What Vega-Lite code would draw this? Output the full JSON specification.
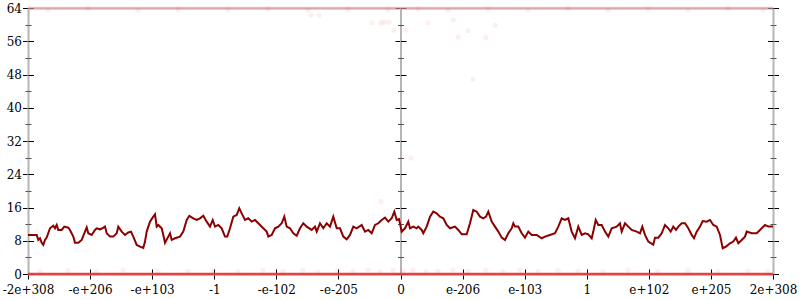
{
  "$schema": "https://vega.github.io/schema/vega-lite/v6.json",
  "width": 745,
  "height": 266,
  "autosize": "none",
  "padding": {"left": 28, "top": 8, "right": 27, "bottom": 26},
  "background": "white",
  "config": {
    "view": {"stroke": null},
    "axis": {"grid": false, "labelFont": "DejaVu Serif, Liberation Serif, serif", "labelFontSize": 12, "labelColor": "#000", "tickColor": "#000", "tickWidth": 1, "domainColor": "#b5b5b5", "domainWidth": 2, "labelOverlap": false, "labelFlush": false, "labelBound": false}
  },
  "datasets": {
    "line": [
      {"x":0,"y":9.4},{"x":8.7,"y":9.4},{"x":10.3,"y":8.2},{"x":12,"y":8.6},{"x":13.7,"y":7.5},{"x":15.3,"y":7.0},{"x":17,"y":8.2},{"x":18.7,"y":8.75},{"x":22,"y":11.0},{"x":25.3,"y":11.6},{"x":27,"y":11.0},{"x":28.7,"y":11.8},{"x":30.3,"y":10.6},{"x":33.7,"y":10.6},{"x":36.3,"y":11.4},{"x":40.3,"y":11.15},{"x":42,"y":10.6},{"x":45.3,"y":9.0},{"x":47,"y":7.5},{"x":50.3,"y":7.5},{"x":53.7,"y":8.2},{"x":57,"y":10.2},{"x":58.7,"y":11.2},{"x":60.3,"y":9.8},{"x":63.7,"y":9.4},{"x":67,"y":10.6},{"x":68.7,"y":11.0},{"x":72,"y":10.75},{"x":74.3,"y":11.0},{"x":77,"y":11.4},{"x":78.7,"y":9.8},{"x":82,"y":9.0},{"x":85.3,"y":9.0},{"x":88.7,"y":9.8},{"x":90.3,"y":11.4},{"x":93.7,"y":10.2},{"x":97,"y":9.4},{"x":100.3,"y":10.0},{"x":103,"y":10.2},{"x":105.3,"y":9.0},{"x":108.7,"y":7.0},{"x":112,"y":6.6},{"x":115.3,"y":6.3},{"x":117,"y":7.8},{"x":118.7,"y":10.2},{"x":122,"y":12.6},{"x":125.3,"y":13.8},{"x":127,"y":14.35},{"x":128.7,"y":11.4},{"x":130.3,"y":11.8},{"x":133.7,"y":11.0},{"x":135.3,"y":9.4},{"x":137,"y":7.5},{"x":140.3,"y":9.0},{"x":142,"y":9.8},{"x":143.7,"y":8.2},{"x":147,"y":8.6},{"x":152,"y":9.0},{"x":155.3,"y":10.2},{"x":158.7,"y":13.0},{"x":161.3,"y":14.0},{"x":165.3,"y":13.4},{"x":168.7,"y":13.0},{"x":172,"y":13.4},{"x":175.3,"y":14.0},{"x":178.7,"y":12.6},{"x":182,"y":11.4},{"x":184.7,"y":13.0},{"x":187,"y":11.4},{"x":190.3,"y":11.8},{"x":193.7,"y":11.0},{"x":197,"y":9.0},{"x":199.3,"y":9.0},{"x":202,"y":11.0},{"x":205.3,"y":13.8},{"x":208.7,"y":14.2},{"x":211.3,"y":15.8},{"x":213.7,"y":14.6},{"x":217,"y":13.0},{"x":220.3,"y":13.4},{"x":223.7,"y":12.6},{"x":227,"y":13.0},{"x":230.3,"y":12.2},{"x":235.3,"y":11.0},{"x":238.7,"y":10.2},{"x":240.3,"y":9.0},{"x":243.7,"y":9.4},{"x":247,"y":11.0},{"x":250.3,"y":11.4},{"x":253.7,"y":12.2},{"x":256.3,"y":13.8},{"x":258.7,"y":11.4},{"x":262,"y":11.0},{"x":265.3,"y":9.8},{"x":268.7,"y":9.2},{"x":272,"y":11.0},{"x":275.3,"y":12.2},{"x":278.7,"y":11.4},{"x":283.7,"y":10.6},{"x":287,"y":11.4},{"x":288.7,"y":10.2},{"x":292,"y":12.2},{"x":295.3,"y":11.0},{"x":298.7,"y":12.2},{"x":302,"y":11.4},{"x":305.3,"y":13.8},{"x":308.7,"y":11.0},{"x":312,"y":11.0},{"x":315.3,"y":9.0},{"x":318.7,"y":8.35},{"x":322,"y":9.4},{"x":325.3,"y":11.4},{"x":328.7,"y":11.0},{"x":333.7,"y":11.8},{"x":337,"y":10.2},{"x":340.3,"y":10.6},{"x":343.7,"y":9.8},{"x":347,"y":11.8},{"x":350.3,"y":12.2},{"x":353.7,"y":13.0},{"x":357,"y":13.55},{"x":360.3,"y":12.6},{"x":363.7,"y":13.4},{"x":366.3,"y":15.0},{"x":368.7,"y":13.0},{"x":371,"y":13.2},{"x":373.7,"y":10.2},{"x":375.3,"y":10.6},{"x":377,"y":11.0},{"x":380.3,"y":12.6},{"x":382,"y":11.0},{"x":385.3,"y":11.4},{"x":388.7,"y":11.0},{"x":390.3,"y":11.4},{"x":393.7,"y":10.6},{"x":395.3,"y":9.8},{"x":398.7,"y":11.4},{"x":402,"y":13.8},{"x":405.3,"y":15.0},{"x":408.7,"y":14.6},{"x":412,"y":13.8},{"x":415.3,"y":13.4},{"x":418.7,"y":11.8},{"x":422,"y":11.0},{"x":427,"y":11.4},{"x":430.3,"y":10.6},{"x":433.7,"y":9.55},{"x":438.7,"y":9.55},{"x":442,"y":12.2},{"x":445.3,"y":15.4},{"x":448.7,"y":15.0},{"x":452,"y":13.8},{"x":455.3,"y":13.4},{"x":458,"y":13.8},{"x":460.3,"y":15.0},{"x":463.7,"y":12.6},{"x":467,"y":11.4},{"x":470.3,"y":10.2},{"x":473.7,"y":8.75},{"x":477,"y":8.2},{"x":480.3,"y":9.8},{"x":483.7,"y":11.0},{"x":485.3,"y":12.2},{"x":487,"y":11.4},{"x":490.3,"y":11.4},{"x":493.7,"y":9.8},{"x":497,"y":8.75},{"x":500.3,"y":10.2},{"x":503.7,"y":9.4},{"x":508.7,"y":9.4},{"x":513.7,"y":8.6},{"x":517,"y":9.0},{"x":522,"y":9.4},{"x":527,"y":9.8},{"x":530.3,"y":11.4},{"x":533.7,"y":13.4},{"x":537,"y":13.0},{"x":540.3,"y":13.4},{"x":543.7,"y":10.2},{"x":547,"y":8.6},{"x":550.3,"y":11.4},{"x":553.7,"y":9.4},{"x":557,"y":9.8},{"x":560.3,"y":9.55},{"x":563.7,"y":8.6},{"x":565.3,"y":10.2},{"x":567.7,"y":13.0},{"x":570.3,"y":11.8},{"x":573.7,"y":11.8},{"x":577,"y":10.2},{"x":580.3,"y":9.0},{"x":583.7,"y":11.0},{"x":588.7,"y":11.4},{"x":592,"y":12.2},{"x":593.7,"y":10.2},{"x":597,"y":12.2},{"x":600.3,"y":11.4},{"x":603.7,"y":10.6},{"x":608.7,"y":10.2},{"x":612,"y":9.8},{"x":614.3,"y":11.4},{"x":617,"y":9.4},{"x":620.3,"y":7.8},{"x":625.3,"y":7.05},{"x":627,"y":8.75},{"x":630.3,"y":8.75},{"x":633.7,"y":9.8},{"x":637,"y":11.8},{"x":640.3,"y":11.0},{"x":642.7,"y":10.2},{"x":645.3,"y":11.4},{"x":648,"y":10.6},{"x":650.3,"y":11.4},{"x":653.7,"y":12.2},{"x":657,"y":12.2},{"x":660.3,"y":11.0},{"x":663.7,"y":9.4},{"x":666,"y":8.6},{"x":668.7,"y":10.2},{"x":672,"y":11.4},{"x":674.7,"y":12.75},{"x":678.7,"y":12.6},{"x":682,"y":13.0},{"x":685.3,"y":11.8},{"x":688.7,"y":11.4},{"x":692,"y":9.4},{"x":694.7,"y":6.2},{"x":698,"y":6.6},{"x":702,"y":7.4},{"x":705.3,"y":7.8},{"x":708,"y":8.75},{"x":710.3,"y":7.4},{"x":713.7,"y":8.2},{"x":717,"y":9.0},{"x":718.7,"y":10.2},{"x":723.7,"y":9.8},{"x":728.7,"y":9.8},{"x":732,"y":10.6},{"x":737,"y":11.8},{"x":740.3,"y":11.4},{"x":745,"y":11.4}
    ],
    "bands": [
      {"x":0,"y":0,"band":"low"},{"x":50,"y":0,"band":"low"},{"x":100,"y":0,"band":"low"},{"x":150,"y":0,"band":"low"},{"x":200,"y":0,"band":"low"},{"x":250,"y":0,"band":"low"},{"x":300,"y":0,"band":"low"},{"x":350,"y":0,"band":"low"},{"x":400,"y":0,"band":"low"},{"x":450,"y":0,"band":"low"},{"x":500,"y":0,"band":"low"},{"x":550,"y":0,"band":"low"},{"x":600,"y":0,"band":"low"},{"x":650,"y":0,"band":"low"},{"x":700,"y":0,"band":"low"},{"x":745,"y":0,"band":"low"},
      {"x":0,"y":64,"band":"high"},{"x":50,"y":64,"band":"high"},{"x":100,"y":64,"band":"high"},{"x":150,"y":64,"band":"high"},{"x":200,"y":64,"band":"high"},{"x":250,"y":64,"band":"high"},{"x":300,"y":64,"band":"high"},{"x":350,"y":64,"band":"high"},{"x":400,"y":64,"band":"high"},{"x":450,"y":64,"band":"high"},{"x":500,"y":64,"band":"high"},{"x":550,"y":64,"band":"high"},{"x":600,"y":64,"band":"high"},{"x":650,"y":64,"band":"high"},{"x":700,"y":64,"band":"high"},{"x":745,"y":64,"band":"high"}
    ],
    "dots": [
      {"x":12,"y":0.6},{"x":40,"y":0.8},{"x":68,"y":0.5},{"x":95,"y":0.9},{"x":130,"y":0.7},{"x":160,"y":0.6},{"x":185,"y":0.9},{"x":210,"y":0.5},{"x":235,"y":0.8},{"x":255,"y":0.6},{"x":275,"y":0.9},{"x":290,"y":0.4},{"x":310,"y":0.8},{"x":325,"y":0.6},{"x":340,"y":1.0},{"x":352,"y":0.5},{"x":365,"y":0.8},{"x":375,"y":0.6},{"x":385,"y":0.9},{"x":398,"y":0.5},{"x":410,"y":0.7},{"x":425,"y":0.9},{"x":440,"y":0.6},{"x":458,"y":0.8},{"x":475,"y":0.5},{"x":492,"y":0.9},{"x":510,"y":0.6},{"x":530,"y":0.8},{"x":550,"y":0.7},{"x":575,"y":0.5},{"x":600,"y":0.9},{"x":630,"y":0.6},{"x":660,"y":0.8},{"x":690,"y":0.5},{"x":720,"y":0.7},{"x":740,"y":0.6},
      {"x":20,"y":63.6},{"x":60,"y":63.8},{"x":110,"y":63.5},{"x":150,"y":63.7},{"x":200,"y":63.6},{"x":240,"y":63.8},{"x":280,"y":63.5},{"x":320,"y":63.7},{"x":360,"y":63.6},{"x":390,"y":63.8},{"x":420,"y":63.5},{"x":460,"y":63.7},{"x":500,"y":63.6},{"x":540,"y":63.8},{"x":580,"y":63.5},{"x":620,"y":63.7},{"x":660,"y":63.6},{"x":700,"y":63.8},{"x":735,"y":63.5},
      {"x":283,"y":62.3},{"x":291,"y":62.3},{"x":344,"y":60.4},{"x":353,"y":60.4},{"x":356,"y":60.6},{"x":361,"y":60.6},{"x":366,"y":58.7},{"x":378,"y":58.7},{"x":400,"y":60.4},{"x":425,"y":61.1},{"x":430,"y":57.0},{"x":440,"y":58.5},{"x":467,"y":59.9},{"x":458,"y":56.8},{"x":445,"y":46.9},{"x":353,"y":17.4},{"x":383,"y":27.9}
    ]
  },
  "resolve": {"axis": {"x": "independent", "y": "independent"}},
  "layer": [
    {
      "data": {"name": "bands"},
      "mark": {"type": "line", "strokeWidth": 2.5},
      "encoding": {
        "x": {"field": "x", "type": "quantitative", "scale": {"domain": [0, 745], "nice": false, "zero": false},
              "axis": {"orient": "bottom", "title": null, "values": [0,62.083,124.167,186.25,248.333,310.417,372.5,434.583,496.667,558.75,620.833,682.917,745], "labelExpr": "['-2e+308','-e+206','-e+103','-1','-e-102','-e-205','0','e-206','e-103','1','e+102','e+205','2e+308'][round(datum.value/62.0833)]", "tickSize": 5, "labelPadding": 5, "domain": true}},
        "y": {"field": "y", "type": "quantitative", "scale": {"domain": [0, 64], "nice": false},
              "axis": {"orient": "left", "title": null, "values": [0,8,16,24,32,40,48,56,64], "tickSize": 5.5, "labelPadding": 1, "domain": true}},
        "color": {"field": "band", "type": "nominal", "scale": {"domain": ["low", "high"], "range": ["#e53b3b", "#f4a3a3"]}, "legend": null},
        "opacity": {"field": "band", "type": "nominal", "scale": {"domain": ["low", "high"], "range": [0.95, 0.6]}, "legend": null}
      }
    },
    {
      "data": {"name": "dots"},
      "mark": {"type": "circle", "size": 28, "color": "#ee3333", "opacity": 0.08},
      "encoding": {
        "x": {"field": "x", "type": "quantitative", "scale": {"domain": [0, 745], "nice": false, "zero": false},
              "axis": {"orient": "bottom", "title": null, "values": [0,62.083,124.167,186.25,248.333,310.417,372.5,434.583,496.667,558.75,620.833,682.917,745], "tickSize": -5, "labels": false, "domain": false}},
        "y": {"field": "y", "type": "quantitative", "scale": {"domain": [0, 64], "nice": false},
              "axis": {"orient": "left", "title": null, "values": [0,8,16,24,32,40,48,56,64], "tickSize": -5.5, "labels": false, "domain": false}}
      }
    },
    {
      "data": {"name": "line"},
      "mark": {"type": "line", "color": "#8b0000", "strokeWidth": 2},
      "encoding": {
        "x": {"field": "x", "type": "quantitative", "scale": {"domain": [0, 745], "nice": false, "zero": false},
              "axis": {"orient": "top", "title": null, "ticks": false, "labels": false, "domain": true}},
        "y": {"field": "y", "type": "quantitative", "scale": {"domain": [0, 64], "nice": false},
              "axis": {"orient": "left", "title": null, "values": [4,12,20,28,36,44,52,60], "tickSize": 3, "tickColor": "#555", "labels": false, "domain": false}}
      }
    },
    {
      "data": {"name": "line"},
      "mark": {"type": "point", "opacity": 0},
      "encoding": {
        "x": {"field": "x", "type": "quantitative", "scale": {"domain": [0, 745], "nice": false, "zero": false}, "axis": null},
        "y": {"field": "y", "type": "quantitative", "scale": {"domain": [0, 64], "nice": false},
              "axis": {"orient": "left", "title": null, "values": [4,12,20,28,36,44,52,60], "tickSize": -3, "tickColor": "#555", "labels": false, "domain": false}}
      }
    },
    {
      "data": {"name": "line"},
      "mark": {"type": "point", "opacity": 0},
      "encoding": {
        "x": {"field": "x", "type": "quantitative", "scale": {"domain": [0, 745], "nice": false, "zero": false}, "axis": null},
        "y": {"field": "y", "type": "quantitative", "scale": {"domain": [0, 64], "nice": false},
              "axis": {"orient": "left", "offset": -372.5, "title": null, "values": [0,8,16,24,32,40,48,56,64], "tickSize": 5.5, "labels": false, "domain": true}}
      }
    },
    {
      "data": {"name": "line"},
      "mark": {"type": "point", "opacity": 0},
      "encoding": {
        "x": {"field": "x", "type": "quantitative", "scale": {"domain": [0, 745], "nice": false, "zero": false}, "axis": null},
        "y": {"field": "y", "type": "quantitative", "scale": {"domain": [0, 64], "nice": false},
              "axis": {"orient": "left", "offset": -372.5, "title": null, "values": [0,8,16,24,32,40,48,56,64], "tickSize": -5.5, "labels": false, "domain": false}}
      }
    },
    {
      "data": {"name": "line"},
      "mark": {"type": "point", "opacity": 0},
      "encoding": {
        "x": {"field": "x", "type": "quantitative", "scale": {"domain": [0, 745], "nice": false, "zero": false}, "axis": null},
        "y": {"field": "y", "type": "quantitative", "scale": {"domain": [0, 64], "nice": false},
              "axis": {"orient": "left", "offset": -372.5, "title": null, "values": [4,12,20,28,36,44,52,60], "tickSize": 3, "tickColor": "#555", "labels": false, "domain": false}}
      }
    },
    {
      "data": {"name": "line"},
      "mark": {"type": "point", "opacity": 0},
      "encoding": {
        "x": {"field": "x", "type": "quantitative", "scale": {"domain": [0, 745], "nice": false, "zero": false}, "axis": null},
        "y": {"field": "y", "type": "quantitative", "scale": {"domain": [0, 64], "nice": false},
              "axis": {"orient": "left", "offset": -372.5, "title": null, "values": [4,12,20,28,36,44,52,60], "tickSize": -3, "tickColor": "#555", "labels": false, "domain": false}}
      }
    },
    {
      "data": {"name": "line"},
      "mark": {"type": "point", "opacity": 0},
      "encoding": {
        "x": {"field": "x", "type": "quantitative", "scale": {"domain": [0, 745], "nice": false, "zero": false}, "axis": null},
        "y": {"field": "y", "type": "quantitative", "scale": {"domain": [0, 64], "nice": false},
              "axis": {"orient": "right", "title": null, "values": [0,8,16,24,32,40,48,56,64], "tickSize": 5.5, "labels": false, "domain": true}}
      }
    },
    {
      "data": {"name": "line"},
      "mark": {"type": "point", "opacity": 0},
      "encoding": {
        "x": {"field": "x", "type": "quantitative", "scale": {"domain": [0, 745], "nice": false, "zero": false}, "axis": null},
        "y": {"field": "y", "type": "quantitative", "scale": {"domain": [0, 64], "nice": false},
              "axis": {"orient": "right", "title": null, "values": [0,8,16,24,32,40,48,56,64], "tickSize": -5.5, "labels": false, "domain": false}}
      }
    },
    {
      "data": {"name": "line"},
      "mark": {"type": "point", "opacity": 0},
      "encoding": {
        "x": {"field": "x", "type": "quantitative", "scale": {"domain": [0, 745], "nice": false, "zero": false}, "axis": null},
        "y": {"field": "y", "type": "quantitative", "scale": {"domain": [0, 64], "nice": false},
              "axis": {"orient": "right", "title": null, "values": [4,12,20,28,36,44,52,60], "tickSize": 3, "tickColor": "#555", "labels": false, "domain": false}}
      }
    },
    {
      "data": {"name": "line"},
      "mark": {"type": "point", "opacity": 0},
      "encoding": {
        "x": {"field": "x", "type": "quantitative", "scale": {"domain": [0, 745], "nice": false, "zero": false}, "axis": null},
        "y": {"field": "y", "type": "quantitative", "scale": {"domain": [0, 64], "nice": false},
              "axis": {"orient": "right", "title": null, "values": [4,12,20,28,36,44,52,60], "tickSize": -3, "tickColor": "#555", "labels": false, "domain": false}}
      }
    }
  ]
}
